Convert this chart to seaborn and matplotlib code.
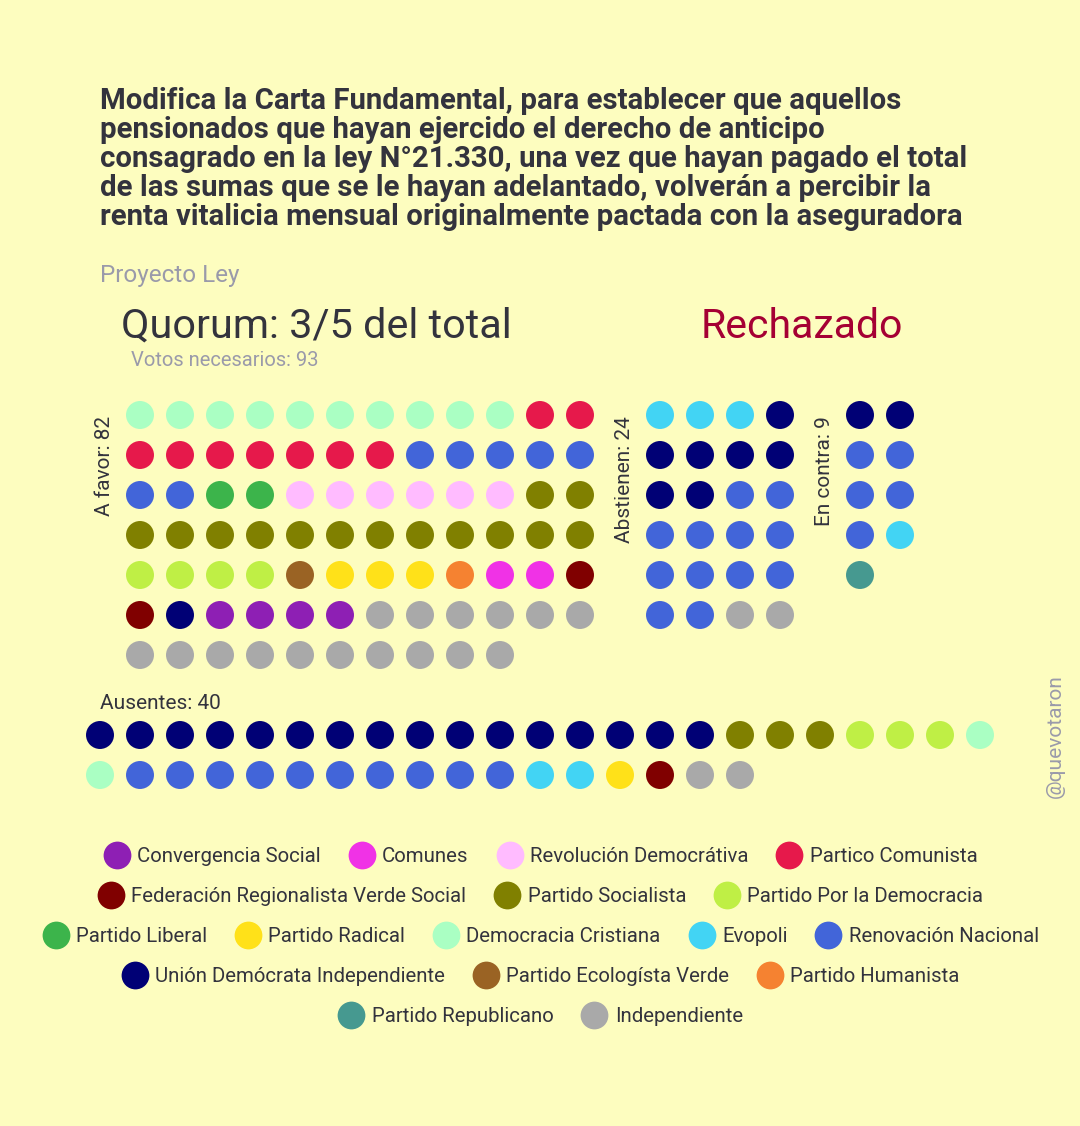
import pandas as pd
import numpy as np
import seaborn as sns
import matplotlib.pyplot as plt
from matplotlib.lines import Line2D

# party colors
colors = {
    'Convergencia Social': '#8e1fb4',
    'Comunes': '#f032e6',
    'Revolución Democrátiva': '#ffbbff',
    'Partico Comunista': '#e6194b',
    'Federación Regionalista Verde Social': '#800000',
    'Partido Socialista': '#808000',
    'Partido Por la Democracia': '#bfef45',
    'Partido Liberal': '#3cb44b',
    'Partido Radical': '#ffe119',
    'Democracia Cristiana': '#aaffc3',
    'Evopoli': '#42d4f4',
    'Renovación Nacional': '#4265d9',
    'Unión Demócrata Independiente': '#000075',
    'Partido Ecologísta Verde': '#9a6324',
    'Partido Humanista': '#f58231',
    'Partido Republicano': '#469990',
    'Independiente': '#a9a9a9',
}
legend_rows = [
    ['Convergencia Social', 'Comunes', 'Revolución Democrátiva', 'Partico Comunista'],
    ['Federación Regionalista Verde Social', 'Partido Socialista', 'Partido Por la Democracia'],
    ['Partido Liberal', 'Partido Radical', 'Democracia Cristiana', 'Evopoli', 'Renovación Nacional'],
    ['Unión Demócrata Independiente', 'Partido Ecologísta Verde', 'Partido Humanista'],
    ['Partido Republicano', 'Independiente'],
]

# votes per group, in drawing order (party, count)
a_favor = [('Democracia Cristiana', 10), ('Partico Comunista', 9), ('Renovación Nacional', 7),
           ('Partido Liberal', 2), ('Revolución Democrátiva', 6), ('Partido Socialista', 14),
           ('Partido Por la Democracia', 4), ('Partido Ecologísta Verde', 1), ('Partido Radical', 3),
           ('Partido Humanista', 1), ('Comunes', 2), ('Federación Regionalista Verde Social', 2),
           ('Unión Demócrata Independiente', 1), ('Convergencia Social', 4), ('Independiente', 16)]
abstienen = [('Evopoli', 3), ('Unión Demócrata Independiente', 7), ('Renovación Nacional', 12),
             ('Independiente', 2)]
en_contra = [('Unión Demócrata Independiente', 2), ('Renovación Nacional', 5), ('Evopoli', 1),
             ('Partido Republicano', 1)]
ausentes = [('Unión Demócrata Independiente', 16), ('Partido Socialista', 3),
            ('Partido Por la Democracia', 3), ('Democracia Cristiana', 2), ('Renovación Nacional', 10),
            ('Evopoli', 2), ('Partido Radical', 1), ('Federación Regionalista Verde Social', 1),
            ('Independiente', 2)]

title_lines = [
    'Modifica la Carta Fundamental, para establecer que aquellos',
    'pensionados que hayan ejercido el derecho de anticipo',
    'consagrado en la ley N°21.330, una vez que hayan pagado el total',
    'de las sumas que se le hayan adelantado, volverán a percibir la',
    'renta vitalicia mensual originalmente pactada con la aseguradora',
]

BG = '#fdfdbf'
DARK = '#33333d'
GRAY = '#9a9aaa'
FONT = ['Roboto', 'DejaVu Sans']


def grid(groups, ncol, x0, y0, step=40):
    parties = [p for p, n in groups for _ in range(n)]
    idx = np.arange(len(parties))
    return pd.DataFrame({'party': parties,
                         'x': x0 + (idx % ncol) * step,
                         'y': y0 + (idx // ncol) * step})


df = pd.concat([grid(a_favor, 12, 140, 415),
                grid(abstienen, 4, 660, 415),
                grid(en_contra, 2, 860, 415),
                grid(ausentes, 23, 100, 735)], ignore_index=True)

sns.set_theme(style='white')
plt.rcParams['font.family'] = FONT

fig = plt.figure(figsize=(10.8, 11.26), dpi=100, facecolor=BG)
ax = fig.add_axes([0, 0, 1, 1])
ax.set_facecolor(BG)
sns.scatterplot(data=df, x='x', y='y', hue='party', palette=colors, s=406,
                linewidth=0, legend=False, ax=ax)
ax.set_xlim(0, 1080)
ax.set_ylim(1126, 0)
ax.axis('off')

for i, line in enumerate(title_lines):
    ax.text(100, 109 + i * 29, line, fontsize=21.2, fontweight='bold', color=DARK, va='baseline')
ax.text(100, 282, 'Proyecto Ley', fontsize=17.5, color=GRAY, va='baseline')
ax.text(121, 338, 'Quorum: 3/5 del total', fontsize=29.8, color=DARK, va='baseline')
ax.text(701, 338, 'Rechazado', fontsize=29.5, color='#a50034', va='baseline')
ax.text(131, 366, 'Votos necesarios: 93', fontsize=14.5, color=GRAY, va='baseline')
ax.text(100, 709, 'Ausentes: 40', fontsize=15, color=DARK, va='baseline')

ax.text(105, 416, 'A favor: 82', fontsize=15, color=DARK, rotation=90, ha='center', va='top')
ax.text(625, 416, 'Abstienen: 24', fontsize=15, color=DARK, rotation=90, ha='center', va='top')
ax.text(825, 416, 'En contra: 9', fontsize=15, color=DARK, rotation=90, ha='center', va='top')
ax.text(1055, 736, '@quevotaron', fontsize=15, color=GRAY, rotation=90, ha='center', va='center')

for r, row in enumerate(legend_rows):
    handles = [Line2D([], [], marker='o', linestyle='', markersize=20, markeredgewidth=0,
                      color=colors[p]) for p in row]
    fig.legend(handles, row, loc='center', bbox_to_anchor=(0.5, 1 - (857 + 40 * r) / 1126),
               ncol=len(row), frameon=False, fontsize=14.7, labelcolor=DARK,
               handletextpad=0.3, columnspacing=1.3, handlelength=1.4)

fig.savefig('out.png', dpi=100, facecolor=BG)
